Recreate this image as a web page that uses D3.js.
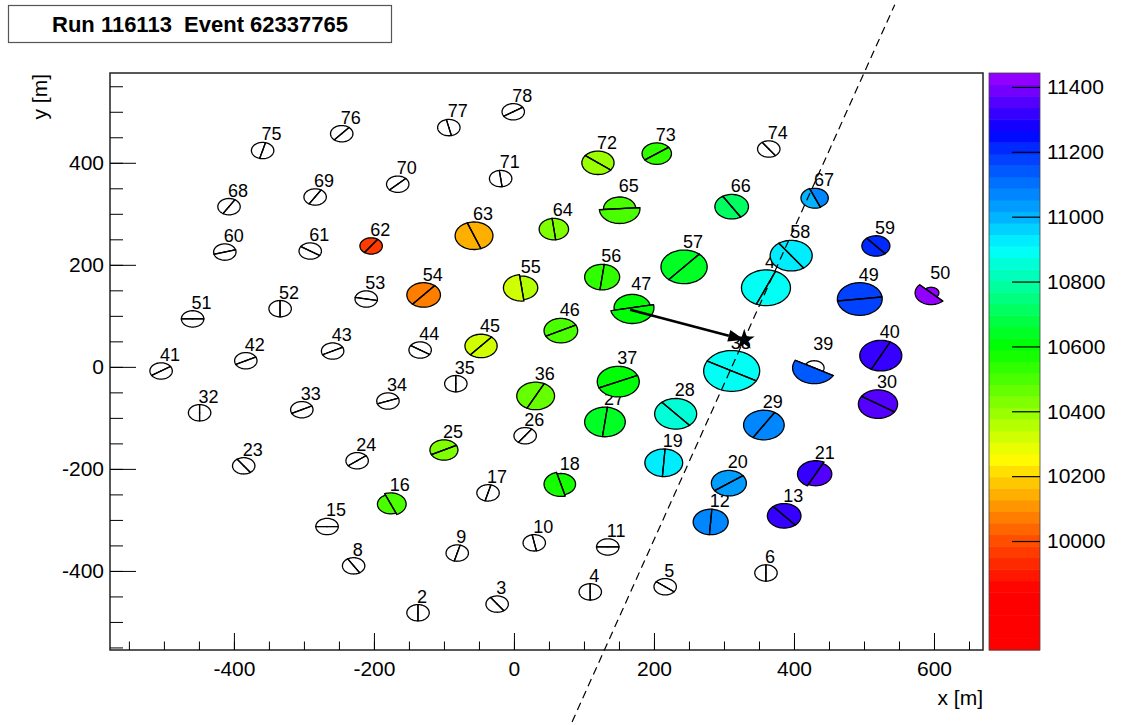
<!DOCTYPE html>
<html lang="en">
<head>
<meta charset="UTF-8">
<title>Run 116113 Event 62337765</title>
<script src="https://cdn.jsdelivr.net/npm/d3@7"></script>
<style>
  body { margin: 0; background: #fff; }
  text { font-family: "Liberation Sans", Arial, Helvetica, sans-serif; }
</style>
</head>
<body>
<div id="chart"></div>
<script>
// station layout: [id, x (m), y (m), split angle (deg)]
var stations = [
  [2, -137, -482, 90], [3, -24, -465, -54], [4, 109, -441, 90], [5, 216, -431, -38],
  [6, 360, -404, 90], [8, -229, -390, -58], [9, -81, -365, 75], [10, 29, -345, -79],
  [11, 134, -353, 0], [12, 281, -304, 86], [13, 386, -292, -49], [15, -267, -313, 0],
  [16, -176, -269, -67], [17, -37, -247, 75], [18, 67, -230, -75], [19, 214, -188, 86],
  [20, 307, -228, 36], [21, 431, -210, 63], [23, -386, -194, -54], [24, -224, -184, 38],
  [25, -100, -163, 27], [26, 16, -135, 54], [27, 130, -108, 83], [28, 231, -92, -49],
  [29, 357, -114, 58], [30, 520, -73, -33], [32, -449, -90, 90], [33, -303, -84, 27],
  [34, -180, -67, 20], [35, -83, -33, 90], [36, 31, -57, 63], [37, 149, -29, 24],
  [38, 311, -8, -29], [39, 429, -2, -29], [40, 524, 22, 63], [41, -504, -8, 33],
  [42, -383, 12, 27], [43, -259, 31, 27], [44, -134, 33, -33], [45, -47, 41, 49],
  [46, 67, 71, 27], [47, 169, 116, 11], [48, 360, 155, 67], [49, 494, 133, 7],
  [50, 596, 145, -44], [51, -459, 94, 0], [52, -334, 114, 90], [53, -211, 133, -11],
  [54, -129, 141, 49], [55, 11, 155, -83], [56, 126, 176, 83], [57, 243, 196, 49],
  [58, 396, 218, -54], [59, 517, 237, -49], [60, -413, 225, 16], [61, -291, 227, -33],
  [62, -204, 237, 54], [63, -57, 257, -69], [64, 57, 270, -83], [65, 151, 310, 4],
  [66, 311, 314, -58], [67, 430, 331, -67], [68, -407, 314, 58], [69, -284, 333, 58],
  [70, -166, 358, 44], [71, -19, 369, -83], [72, 120, 400, -38], [73, 204, 418, 36],
  [74, 364, 427, -54], [75, -359, 424, 75], [76, -246, 457, 49], [77, -93, 469, -77],
  [78, -1, 500, 33]
];

// triggered stations: [id, time A, radius A (m), time B, radius B (m)]
// half A lies counter-clockwise of the split angle, half B opposite; null time = no signal
var signals = [
  [12, 11080, 25, 11080, 25], [13, 11310, 24, 11310, 24], [16, 10500, 22, 10500, 19],
  [18, 10570, 21, 10570, 24], [19, 10925, 27, 10925, 27], [20, 11050, 25, 11050, 25],
  [21, 11310, 26, 11340, 23], [25, 10430, 20, 10430, 20], [27, 10625, 29, 10625, 29],
  [28, 10860, 30, 10860, 30], [29, 11080, 29, 11080, 29], [30, 11350, 28, 11350, 28],
  [36, 10460, 27, 10460, 27], [37, 10610, 30, 10610, 30], [38, 10900, 40, 10900, 40],
  [39, null, 14, 11130, 31], [40, 11310, 30, 11310, 30], [45, 10330, 23, 10330, 23],
  [46, 10500, 24, 10500, 24], [47, 10600, 26, 10600, 31], [48, 10900, 35, 10900, 35],
  [49, 11180, 32, 11180, 32], [50, 11420, 11, 11420, 23], [54, 10075, 24, 10075, 24],
  [55, 10350, 23, 10330, 26], [56, 10550, 25, 10550, 25], [57, 10650, 33, 10650, 33],
  [58, 10925, 30, 10925, 30], [59, 11215, 20, 11215, 20], [62, 9970, 16, 9970, 16],
  [63, 10150, 27, 10150, 27], [64, 10430, 21, 10430, 21], [65, 10500, 23, 10500, 29],
  [66, 10700, 24, 10700, 24], [67, 11060, 19, 10990, 20], [72, 10405, 23, 10405, 23],
  [73, 10550, 21, 10550, 21]
];
var silentRadius = 16;

var xTicks = [-400, -200, 0, 200, 400, 600];
var yTicks = [-400, -200, 0, 200, 400];
var zTicks = [10000, 10200, 10400, 10600, 10800, 11000, 11200, 11400];

// reconstructed core and shower axis projection
var core = [329, 53];
var arrowTail = [166, 112];
var axisLine = [[83, -696], [544, 710]];

var title = "Run 116113  Event 62337765";

var W = 1122, H = 725;
var svg = d3.select("#chart").append("svg")
    .attr("width", W)
    .attr("height", H);

svg.append("rect").attr("width", W).attr("height", H).attr("fill", "#fff");

var x = d3.scaleLinear().domain([-577, 670]).range([110, 983]);
var y = d3.scaleLinear().domain([-555, 576]).range([650, 73]);

// colour palette: 50 bands, red (early) -> violet (late)
var zMin = 9664, zMax = 11443, nBands = 50;
var z = d3.scaleLinear().domain([zMin, zMax]).range([650, 73]);
var hue = d3.scaleLinear()
    .domain([9664, 9850, 10000, 10200, 10400, 10600, 10800, 11000, 11200, 11443])
    .range([0, 0, 18, 50, 85, 120, 160, 198, 228, 278])
    .clamp(true);
var step = (zMax - zMin) / nBands;
function bandColor(v) {
    var i = Math.max(0, Math.min(nBands - 1, Math.floor((v - zMin) / step)));
    return d3.hsl(hue(zMin + (i + 0.5) * step), 1, 0.5).toString();
}
var plain = function(d) { return String(d); };

// frame
svg.append("rect")
    .attr("x", 110).attr("y", 73)
    .attr("width", 983 - 110).attr("height", 650 - 73)
    .attr("fill", "none").attr("stroke", "#222").attr("stroke-width", 1.5);

// axes, ROOT style ticks pointing inwards
var fontFam = '"Liberation Sans", Arial, sans-serif';
svg.append("g")
    .attr("transform", "translate(110,0)")
    .call(d3.axisLeft(y).tickValues(d3.range(-550, 551, 50)).tickSize(-13).tickFormat(""))
    .call(function(g) { g.select(".domain").remove(); });
svg.append("g")
    .attr("transform", "translate(110,0)")
    .attr("class", "yaxis")
    .call(d3.axisLeft(y).tickValues(yTicks).tickSize(-26).tickPadding(6).tickFormat(plain))
    .call(function(g) { g.select(".domain").remove(); });
svg.append("g")
    .attr("transform", "translate(0,650)")
    .call(d3.axisBottom(x).tickValues(d3.range(-550, 651, 50)).tickSize(-8.5).tickFormat(""))
    .call(function(g) { g.select(".domain").remove(); });
svg.append("g")
    .attr("transform", "translate(0,650)")
    .attr("class", "xaxis")
    .call(d3.axisBottom(x).tickValues(xTicks).tickSize(-17).tickPadding(11).tickFormat(plain))
    .call(function(g) { g.select(".domain").remove(); });
svg.selectAll(".xaxis text, .yaxis text")
    .attr("font-size", 21).attr("font-family", fontFam).attr("fill", "#000");
svg.selectAll(".tick line").attr("stroke", "#000");

svg.append("text")
    .attr("x", 983).attr("y", 705)
    .attr("text-anchor", "end")
    .attr("font-size", 21)
    .text("x [m]");
svg.append("text")
    .attr("transform", "translate(47,74) rotate(-90)")
    .attr("text-anchor", "end")
    .attr("font-size", 21)
    .text("y [m]");

// stations
function halfPath(cx, cy, r, a0) {
    var pts = d3.range(0, 41).map(function(k) {
        var t = (a0 + k * 180 / 40) * Math.PI / 180;
        return [x(cx + r * Math.cos(t)), y(cy + r * Math.sin(t))];
    });
    return d3.line()(pts) + "Z";
}

var sigById = {};
signals.forEach(function(s) { sigById[s[0]] = s; });

var plot = svg.append("g");
stations.forEach(function(st) {
    var id = st[0], cx = st[1], cy = st[2], phi = st[3];
    var sg = sigById[id];
    var tA = sg ? sg[1] : null, rA = sg ? sg[2] : silentRadius;
    var tB = sg ? sg[3] : null, rB = sg ? sg[4] : silentRadius;
    var g = plot.append("g");

    g.append("path")
        .attr("d", halfPath(cx, cy, rA, phi))
        .attr("fill", tA == null ? "#fff" : bandColor(tA))
        .attr("stroke", "#000").attr("stroke-width", 1.3);
    g.append("path")
        .attr("d", halfPath(cx, cy, rB, phi + 180))
        .attr("fill", tB == null ? "#fff" : bandColor(tB))
        .attr("stroke", "#000").attr("stroke-width", 1.3);

    var rm = Math.max(rA, rB), t = phi * Math.PI / 180;
    g.append("line")
        .attr("x1", x(cx - rm * Math.cos(t))).attr("y1", y(cy - rm * Math.sin(t)))
        .attr("x2", x(cx + rm * Math.cos(t))).attr("y2", y(cy + rm * Math.sin(t)))
        .attr("stroke", "#000").attr("stroke-width", 1.1);
    g.append("circle")
        .attr("cx", x(cx)).attr("cy", y(cy)).attr("r", 0.9)
        .attr("fill", "#000").attr("opacity", 0.6);

    g.append("text")
        .attr("x", x(cx) - 1)
        .attr("y", y(cy + rm) - 2)
        .attr("font-size", 18)
        .text(id);
});

// shower axis projection
svg.append("line")
    .attr("x1", x(axisLine[0][0])).attr("y1", y(axisLine[0][1]))
    .attr("x2", x(axisLine[1][0])).attr("y2", y(axisLine[1][1]))
    .attr("stroke", "#000").attr("stroke-width", 1.2)
    .attr("stroke-dasharray", "8,5");

// arrow towards the core
var ax0 = x(arrowTail[0]), ay0 = y(arrowTail[1]);
var ax1 = x(core[0]), ay1 = y(core[1]);
var ang = Math.atan2(ay1 - ay0, ax1 - ax0);
var headLen = 16, headW = 6;
var bx = ax1 - headLen * Math.cos(ang), by = ay1 - headLen * Math.sin(ang);
svg.append("line")
    .attr("x1", ax0).attr("y1", ay0).attr("x2", bx).attr("y2", by)
    .attr("stroke", "#000").attr("stroke-width", 2.6);
svg.append("path")
    .attr("d", d3.line()([
        [ax1, ay1],
        [bx + headW * Math.sin(ang), by - headW * Math.cos(ang)],
        [bx - headW * Math.sin(ang), by + headW * Math.cos(ang)]
    ]) + "Z")
    .attr("fill", "#000");

svg.append("path")
    .attr("transform", "translate(" + ax1 + "," + ay1 + ")")
    .attr("d", d3.symbol().type(d3.symbolStar).size(135)())
    .attr("fill", "#000");

// colour bar
var bar = svg.append("g");
d3.range(nBands).forEach(function(i) {
    var lo = zMin + i * step, hi = lo + step;
    bar.append("rect")
        .attr("x", 989).attr("width", 51)
        .attr("y", z(hi)).attr("height", z(lo) - z(hi) + 0.5)
        .attr("fill", bandColor(lo + step / 2));
});
bar.append("rect")
    .attr("x", 989).attr("y", 73).attr("width", 51).attr("height", 577)
    .attr("fill", "none").attr("stroke", "#444").attr("stroke-width", 0.8);
svg.append("g")
    .attr("transform", "translate(1040,0)")
    .attr("class", "zaxis")
    .call(d3.axisRight(z).tickValues(zTicks).tickSize(-28).tickPadding(7).tickFormat(plain))
    .call(function(g) { g.select(".domain").remove(); });
svg.selectAll(".zaxis text")
    .attr("font-size", 21).attr("font-family", fontFam).attr("fill", "#000");
svg.selectAll(".zaxis line").attr("stroke", "#000").attr("stroke-width", 1.2);

// title box
svg.append("rect")
    .attr("x", 8.5).attr("y", 5.5).attr("width", 383).attr("height", 37)
    .attr("fill", "#fff").attr("stroke", "#555").attr("stroke-width", 1.2);
svg.append("text")
    .attr("x", 200).attr("y", 32)
    .attr("text-anchor", "middle")
    .attr("font-size", 22).attr("font-weight", "bold")
    .style("white-space", "pre")
    .text(title);
</script>
</body>
</html>
